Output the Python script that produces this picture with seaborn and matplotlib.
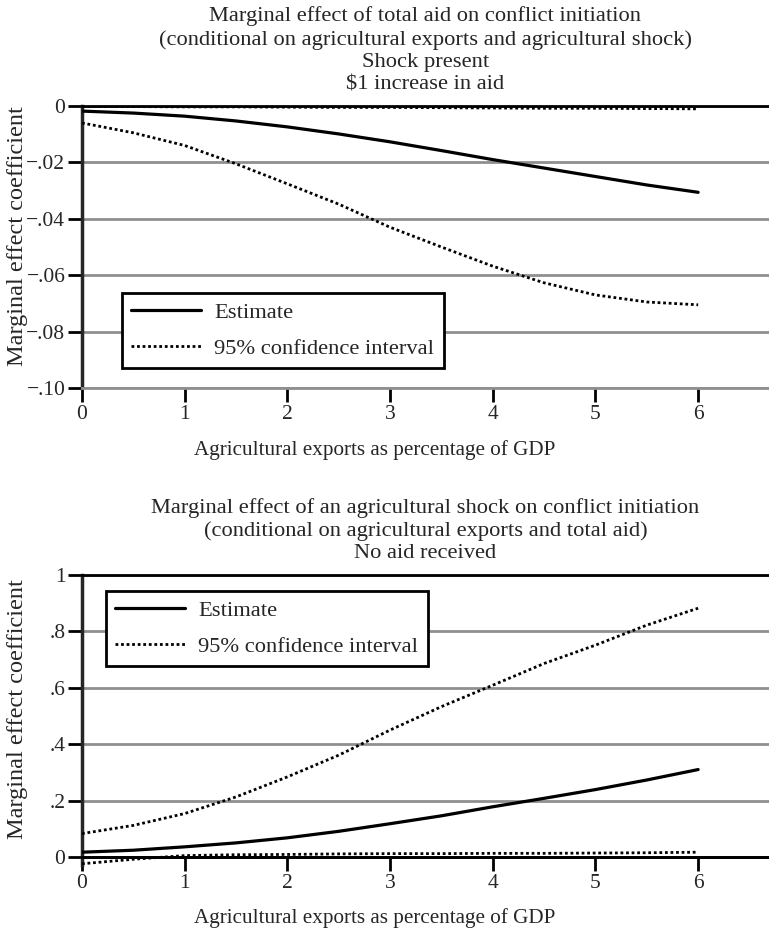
import numpy as np
import pandas as pd
import matplotlib.pyplot as plt
import seaborn as sns

# ===============================
# Data
# ===============================

agri_x = [0, 0.5, 1, 1.5, 2, 2.5, 3, 3.5, 4, 4.5, 5, 5.5, 6]

# panel 1: effect of aid, shock present
aid_est = [-0.0018, -0.0025, -0.0036, -0.0053, -0.0074, -0.0099, -0.0127,
           -0.0158, -0.0190, -0.0220, -0.0250, -0.0280, -0.0306]
aid_lo = [-0.0060, -0.0095, -0.0140, -0.0205, -0.0276, -0.0348, -0.0430,
          -0.0500, -0.0568, -0.0627, -0.0670, -0.0695, -0.0705]
aid_hi = [-0.0002, -0.0002, -0.0003, -0.0003, -0.0004, -0.0005, -0.0005,
          -0.0006, -0.0007, -0.0008, -0.0008, -0.0009, -0.0010]

# panel 2: effect of shock, no aid
shock_est = [0.017, 0.024, 0.036, 0.050, 0.068, 0.091, 0.118,
             0.146, 0.178, 0.208, 0.239, 0.273, 0.310]
shock_lo = [-0.024, -0.008, 0.005, 0.008, 0.009, 0.011, 0.012,
            0.012, 0.013, 0.013, 0.014, 0.015, 0.017]
shock_hi = [0.083, 0.112, 0.154, 0.213, 0.284, 0.361, 0.450,
            0.533, 0.609, 0.686, 0.751, 0.822, 0.882]

titles = [
    "Marginal effect of total aid on conflict initiation\n"
    "(conditional on agricultural exports and agricultural shock)\n"
    "Shock present\n$1 increase in aid",
    "Marginal effect of an agricultural shock on conflict initiation\n"
    "(conditional on agricultural exports and total aid)\n"
    "No aid received",
]
top_yticks = [0, -0.02, -0.04, -0.06, -0.08, -0.10]
top_ylabels = ["0", "\u2212.02", "\u2212.04", "\u2212.06", "\u2212.08", "\u2212.10"]
bot_yticks = [0, 0.2, 0.4, 0.6, 0.8, 1]
bot_ylabels = ["0", ".2", ".4", ".6", ".8", "1"]
xticks = [0, 1, 2, 3, 4, 5, 6]

# ===============================
# Style
# ===============================

sns.set_style("ticks")
plt.rcParams["font.family"] = ["Liberation Serif", "DejaVu Serif"]
plt.rcParams["axes.unicode_minus"] = True
FS_TITLE = 16.2
FS_LAB = 15.2
FS_TICK = 15.5
GRID = "#8f8f8f"

fig = plt.figure(figsize=(7.69, 9.30), dpi=100)
ax1 = fig.add_axes([0.1066, 0.5828, 0.8934, 0.3032])
ax2 = fig.add_axes([0.1066, 0.0694, 0.8934, 0.3124])


def draw(ax, est, lo, hi):
    df = pd.DataFrame({"x": agri_x, "est": est, "lo": lo, "hi": hi})
    sns.lineplot(data=df, x="x", y="est", ax=ax, color="black", lw=2.3,
                 label="Estimate", zorder=5)
    sns.lineplot(data=df, x="x", y="lo", ax=ax, color="black", lw=2,
                 linestyle=(0, (1, 1)), label="95% confidence interval",
                 zorder=5, clip_on=False)
    sns.lineplot(data=df, x="x", y="hi", ax=ax, color="black", lw=2,
                 linestyle=(0, (1, 1)), zorder=5)


def style(ax, yt, yl, ylim, title, leg_anchor, xlab_y):
    ax.set_xlim(0, 6.69)
    ax.set_ylim(*ylim)
    ax.set_yticks(yt)
    ax.set_yticklabels(yl)
    ax.set_xticks(xticks)
    ax.set_xticklabels([str(t) for t in xticks])
    for t in yt:
        ax.axhline(t, color=GRID, lw=2, zorder=1)
    ax.tick_params(axis="both", length=10, width=2, labelsize=FS_TICK,
                   direction="out", color="black", pad=2)
    ax.spines["right"].set_visible(False)
    ax.spines["top"].set_color("black")
    ax.spines["top"].set_linewidth(2)
    ax.spines["left"].set_linewidth(2.5)
    ax.spines["bottom"].set_linewidth(2)
    ax.set_title(title, fontsize=FS_TITLE, x=0.5, pad=12, linespacing=1.24)
    ax.set_xlabel("Agricultural exports as percentage of GDP", fontsize=FS_LAB)
    ax.xaxis.set_label_coords(0.4265, xlab_y)
    ax.set_ylabel("Marginal effect coefficient", fontsize=17.5)
    ax.yaxis.set_label_coords(-0.078, 0.538)
    leg = ax.legend(loc="upper left", bbox_to_anchor=leg_anchor,
                    borderaxespad=0, fontsize=FS_TITLE, handlelength=3.1,
                    handletextpad=0.58, fancybox=False, framealpha=1,
                    edgecolor="black", borderpad=0.42, labelspacing=0.66)
    leg.get_frame().set_linewidth(2)
    leg.set_zorder(10)


draw(ax1, aid_est, aid_lo, aid_hi)
style(ax1, top_yticks, top_ylabels, (-0.10, 0), titles[0], (0.058, 0.337), -0.184)
ax1.spines["bottom"].set_color(GRID)

draw(ax2, shock_est, shock_lo, shock_hi)
style(ax2, bot_yticks, bot_ylabels, (-0.03, 1), titles[1], (0.035, 0.945), -0.146)
ax2.spines["bottom"].set_position(("data", 0))
ax2.spines["bottom"].set_color("black")
ax2.axhline(0, color="black", lw=2, zorder=2)

fig.savefig("out.png", dpi=100)
